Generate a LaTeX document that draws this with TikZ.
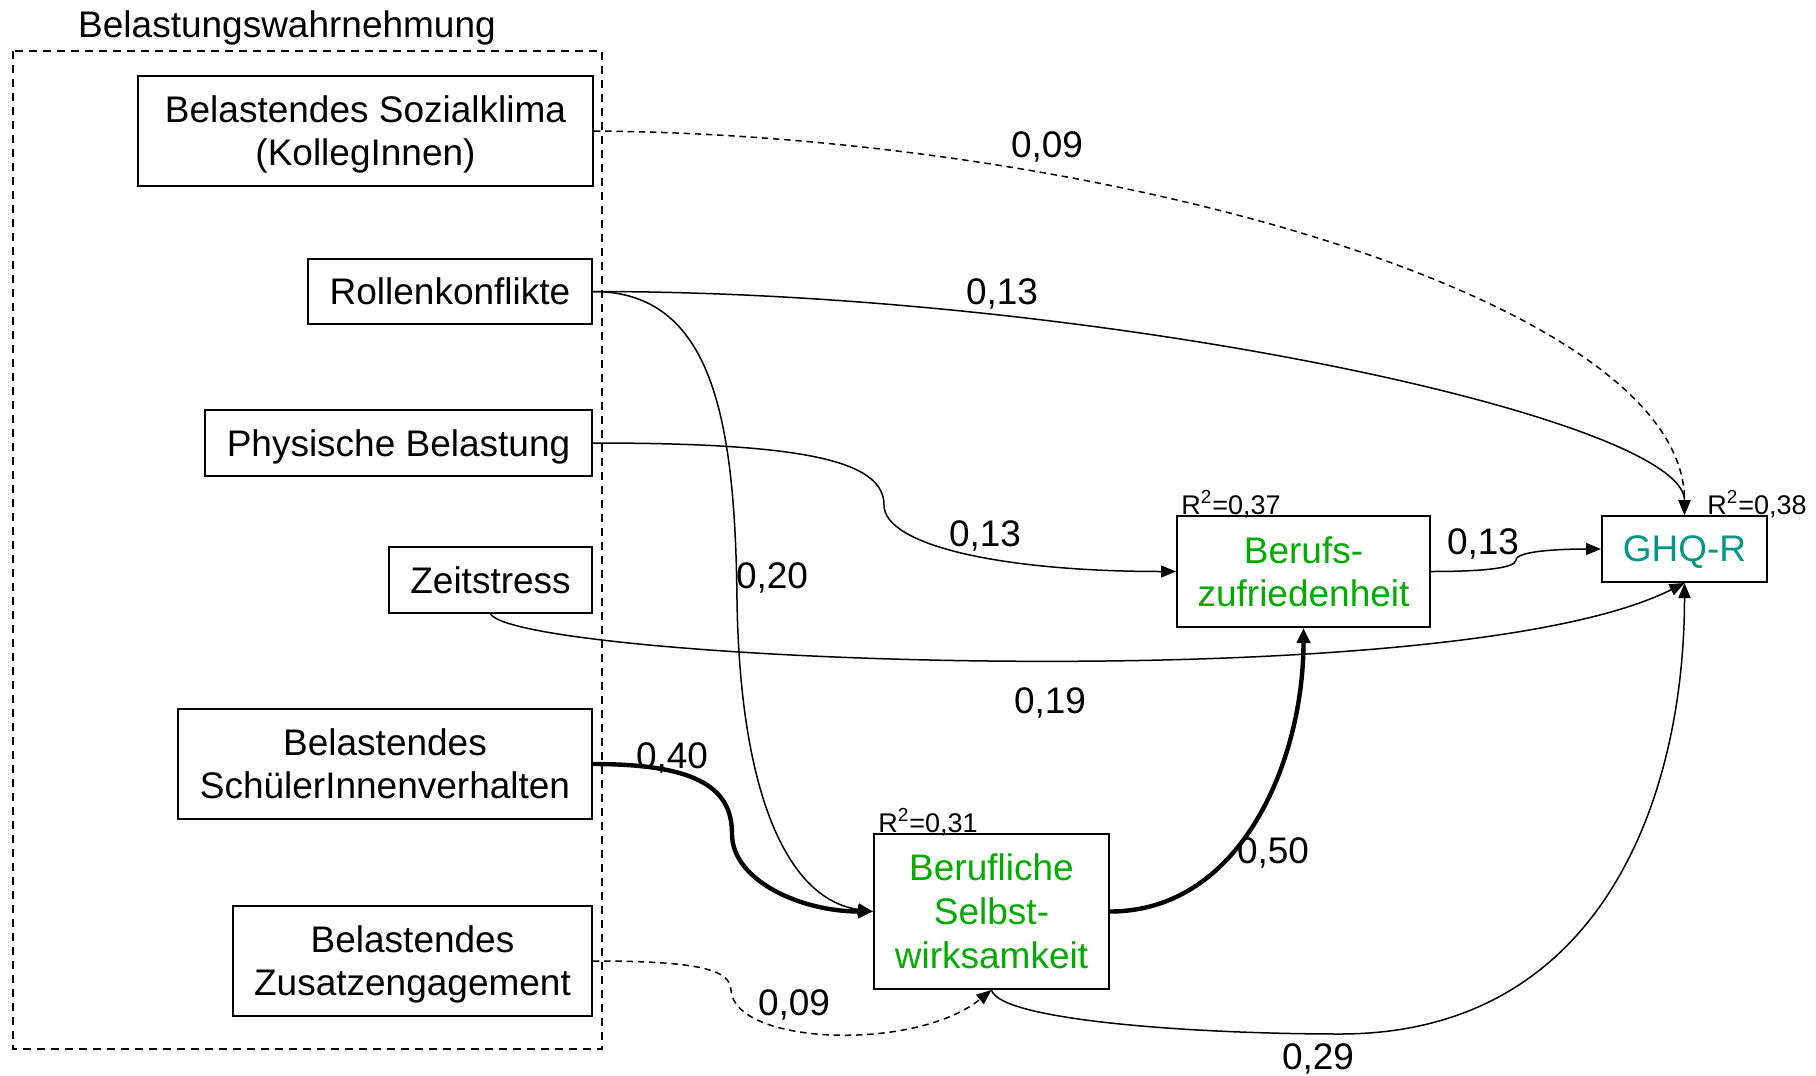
\documentclass[tikz,border=0pt]{standalone}
\usepackage{fontspec}
\setmainfont{Liberation Sans}
\usetikzlibrary{arrows.meta}
\definecolor{grn}{RGB}{0,170,0}
\definecolor{tealc}{RGB}{0,150,132}
\begin{document}
\begin{tikzpicture}[x=0.5pt,y=-0.5pt,
  box/.style={draw,line width=1pt,inner sep=0pt,align=center,text depth=0pt,font=\fontsize{18.5pt}{21.5pt}\selectfont},
  lbl/.style={inner sep=0pt,text depth=0pt,font=\fontsize{18.5pt}{21.5pt}\selectfont},
  rsq/.style={inner sep=0pt,font=\fontsize{13.5pt}{16pt}\selectfont},
  conn/.style={line width=0.75pt,-{Triangle[length=7.5pt,width=6pt]}},
  thickconn/.style={line width=2.2pt,-{Triangle[length=7.5pt,width=6.5pt]}},
  dconn/.style={conn,dash pattern=on 3.2pt off 2.4pt},
  groupbox/.style={draw,line width=0.7pt,dash pattern=on 4pt off 3pt}
]
\useasboundingbox (0,0) rectangle (1816,1076);
% group
\draw[groupbox] (13,51) rectangle (602,1049);
\node[lbl] (title) at (287,24) {Belastungswahrnehmung};
% left boxes
\node[box,minimum width=227.5pt,minimum height=55pt] (soz) at (365.5,131) {Belastendes Sozialklima\\(KollegInnen)};
\node[box,minimum width=142pt,minimum height=32.5pt] (rol) at (450,291.5) {Rollenkonflikte};
\node[box,minimum width=193.5pt,minimum height=33pt] (phy) at (398.5,443) {Physische Belastung};
\node[box,minimum width=101.5pt,minimum height=33pt] (zeit) at (490.5,580) {Zeitstress};
\node[box,minimum width=207pt,minimum height=55pt] (sch) at (385,764) {Belastendes\\SchülerInnenverhalten};
\node[box,minimum width=179.5pt,minimum height=55pt] (zus) at (412.5,961) {Belastendes\\Zusatzengagement};
% right boxes
\node[box,text=grn,minimum width=126.5pt,minimum height=55.5pt] (ber) at (1303.5,571.5) {Berufs-\\zufriedenheit};
\node[box,text=tealc,minimum width=82.5pt,minimum height=33pt] (ghq) at (1684.5,549) {GHQ-R};
\node[box,text=grn,minimum width=117.5pt,minimum height=77.5pt,font=\fontsize{18.5pt}{22pt}\selectfont] (sel) at (991.5,911.5) {Berufliche\\Selbst-\\wirksamkeit};
% R2 labels
\node[rsq,anchor=base west] (r37) at (1181,514) {R\textsuperscript{2}=0,37};
\node[rsq,anchor=base west] (r38) at (1707,514) {R\textsuperscript{2}=0,38};
\node[rsq,anchor=base west] (r31) at (878,832) {R\textsuperscript{2}=0,31};
% connectors
\draw[dconn] (soz.east) .. controls +(507,4) and +(0,-216) .. (ghq.north);
\draw[conn] (rol.east) .. controls +(508,0) and +(0,-96) .. (ghq.north);
\draw[conn] (rol.east) .. controls +(120,0) and (735,420) .. (737,600)
   .. controls (740,800) and (790,900) .. (sel.west);
\draw[conn] (phy.east) .. controls +(208,0) and (884,460) .. (884,505)
   .. controls (884,545) and (1000,571.5) .. (ber.west);
\draw[conn] (zeit.south) .. controls +(30,47) and +(-234.5,118) .. (ghq.south);
\draw[conn] (ber.east) .. controls +(45,0) and (1516,569) .. (1516,560)
   .. controls (1516,551) and (1560,549) .. (ghq.west);
\draw[thickconn] (sch.east) .. controls +(108,0) and (732,790) .. (732,834)
   .. controls (732,880) and (800,911.5) .. (sel.west);
\draw[thickconn] (sel.east) .. controls +(131,0) and +(0,133) .. (ber.south);
\draw[dconn] (zus.east) .. controls +(108,0) and (730,970) .. (731,990)
   .. controls (734,1045) and (915,1052) .. (sel.south);
\draw[conn] (sel.south) .. controls +(8.5,31) and (1200,1034) .. (1340,1034)
   .. controls (1600,1034) and (1684.5,800) .. (ghq.south);
% path labels
\node[lbl] (l1) at (1047,145) {0,09};
\node[lbl] (l2) at (1002,292) {0,13};
\node[lbl] (l3) at (772,576) {0,20};
\node[lbl] (l4) at (985,534) {0,13};
\node[lbl] (l5) at (1483,542) {0,13};
\node[lbl] (l6) at (1050,701) {0,19};
\node[lbl] (l7) at (672,756) {0,40};
\node[lbl] (l8) at (1273,851) {0,50};
\node[lbl] (l9) at (794,1003) {0,09};
\node[lbl] (l10) at (1318,1057) {0,29};
\end{tikzpicture}
\end{document}
